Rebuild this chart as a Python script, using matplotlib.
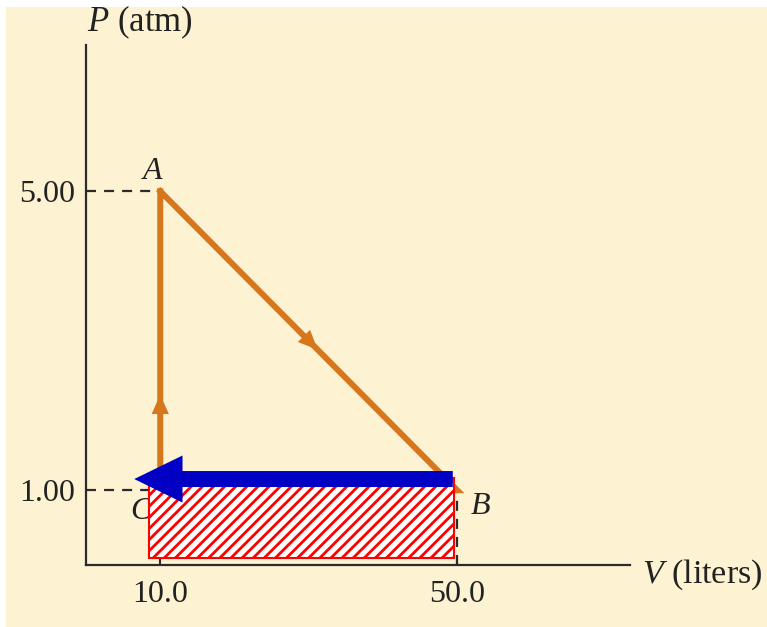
"""PV diagram for a three-step cycle with the isobaric work area shaded."""

import matplotlib
matplotlib.use("Agg")
import matplotlib.pyplot as plt
from matplotlib.patches import Rectangle

plt.rcParams["font.family"] = ["Liberation Serif", "DejaVu Serif"]
plt.rcParams["mathtext.fontset"] = "custom"
plt.rcParams["mathtext.it"] = "Liberation Serif:italic"
plt.rcParams["mathtext.rm"] = "Liberation Serif"
plt.rcParams["hatch.linewidth"] = 2.0
plt.rcParams["hatch.color"] = "red"
plt.rcParams["lines.scale_dashes"] = False

# cycle states (V in liters, P in atm)
state_names = ["A", "B", "C"]
state_V = [10.0, 50.0, 10.0]
state_P = [5.00, 1.00, 1.00]
label_V = [8.9, 53.1, 7.4]
label_P = [5.27, 0.78, 0.71]

x_ticks = [10.0, 50.0]
x_tick_labels = ["10.0", "50.0"]
y_ticks = [1.00, 5.00]
y_tick_labels = ["1.00", "5.00"]

# shaded work region under B -> C and the arrow marking that step
work_V = [8.5, 49.6]
work_P = [0.1, 1.16]
step_V = [49.4, 6.5]
step_P = 1.15

# direction markers on C -> A and A -> B
mark_tip_V = [10.0, 31.2]
mark_tip_P = [2.28, 2.88]
mark_tail_V = [10.0, 29.2]
mark_tail_P = [1.8, 3.08]

ORANGE = "#d6771e"
BLUE = "#0000c4"
INK = "#2b2b2b"
CREAM = "#fdf2d1"

fig = plt.figure(figsize=(7.67, 6.27), dpi=100)
fig.patch.set_facecolor("white")
fig.patches.append(Rectangle((6 / 767, -0.1), 1.1, 1.1 - 7 / 627, transform=fig.transFigure,
                             facecolor=CREAM, edgecolor="none", zorder=-10))

ax = fig.add_axes([86 / 767, 62 / 627, 544 / 767, 520 / 627])
ax.set_facecolor("none")
ax.set_xlim(0, 544 / 7.425)
ax.set_ylim(0, 520 / 74.75)
for side in ("top", "right"):
    ax.spines[side].set_visible(False)
for side in ("left", "bottom"):
    ax.spines[side].set_color(INK)
    ax.spines[side].set_linewidth(1.6)

ax.set_xticks(x_ticks, x_tick_labels)
ax.set_yticks(y_ticks, y_tick_labels)
ax.tick_params(axis="x", direction="in", length=4.5, width=1.5, color=INK,
               labelsize=23, pad=11, labelcolor="#222222")
ax.tick_params(axis="y", direction="in", length=0, labelsize=23, pad=8,
               labelcolor="#222222")

dash = (0, (7.2, 5.8))
ax.plot([0, state_V[0]], [state_P[0], state_P[0]], color=INK, lw=1.6, ls=dash, zorder=2)
ax.plot([0, state_V[2]], [state_P[2], state_P[2]], color=INK, lw=1.6, ls=dash, zorder=2)
ax.plot([state_V[1], state_V[1]], [0, state_P[1]], color=INK, lw=1.6, ls=dash, zorder=2)

# cycle A -> B -> C -> A
cycle_V = state_V + [state_V[0]]
cycle_P = state_P + [state_P[0]]
ax.plot(cycle_V, cycle_P, color=ORANGE, lw=4.3, solid_joinstyle="miter", zorder=2)

for tv, tp, sv, sp in zip(mark_tip_V, mark_tip_P, mark_tail_V, mark_tail_P):
    ax.annotate("", xy=(tv, tp), xytext=(sv, sp),
                arrowprops=dict(arrowstyle="-|>,head_length=1.4,head_width=0.62",
                                color=ORANGE, lw=0, shrinkA=0, shrinkB=0,
                                mutation_scale=10),
                zorder=2)

for name, lv, lp in zip(state_names, label_V, label_P):
    ax.text(lv, lp, name, fontsize=23, style="italic", color="#222222",
            ha="center", va="center", zorder=2.5)

ax.add_patch(Rectangle((work_V[0], work_P[0]), work_V[1] - work_V[0], work_P[1] - work_P[0],
                       facecolor="white", edgecolor="red", lw=1.5, hatch="///", zorder=3))

ax.arrow(step_V[0], step_P, step_V[1] - step_V[0], 0, width=0.214, head_width=0.63,
         head_length=6.5, length_includes_head=True, color=BLUE, lw=0, zorder=4)

fig.text(87 / 767, 1 - 31 / 627, r"$P$ (atm)", fontsize=25, color="#222222", va="baseline")
fig.text(642 / 767, 1 - 583 / 627, r"$V$ (liters)", fontsize=24.5, color="#222222", va="baseline")

fig.savefig("out.png", dpi=100, facecolor=fig.get_facecolor())
